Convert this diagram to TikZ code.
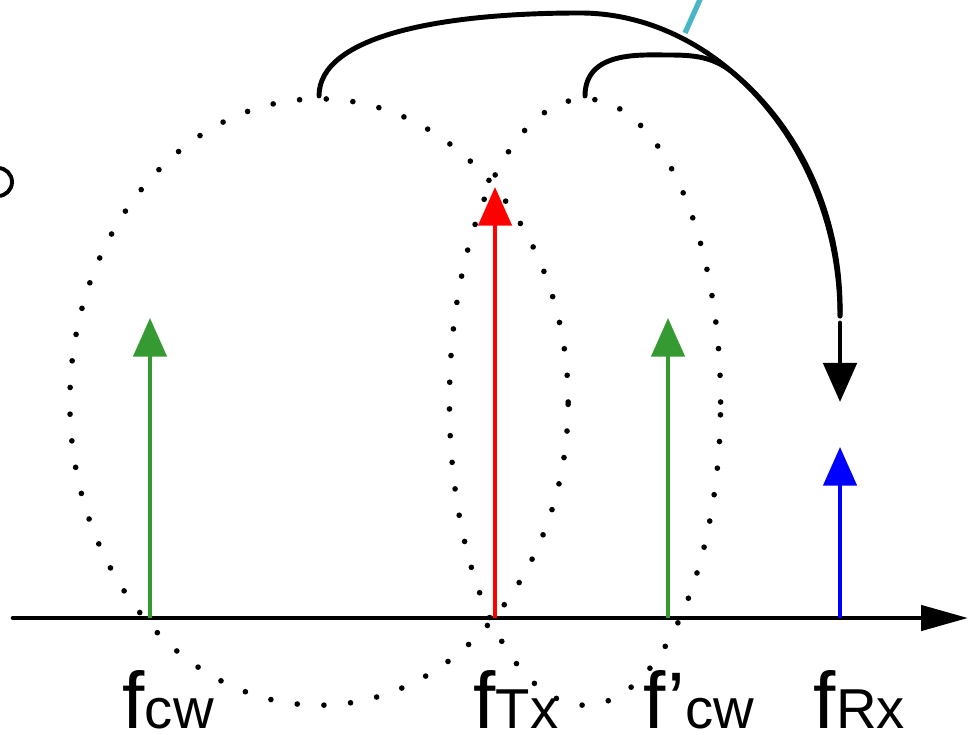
\documentclass[tikz,border=0pt]{standalone}
\usepackage{fontspec}
\setmainfont{Liberation Sans}
\usetikzlibrary{arrows.meta, shapes.geometric}
\definecolor{tone}{HTML}{369A33}
\definecolor{txred}{HTML}{FF0000}
\definecolor{rxblue}{HTML}{0000FF}
\definecolor{aqua}{HTML}{4BB5C8}
\newcommand{\idx}[1]{{\fontsize{16}{16}\selectfont #1}}

\begin{document}
\begin{tikzpicture}[
    x=0.01cm, y=-0.01cm,
    spike/.style={line width=1.2pt, -{Triangle[length=3.85mm, width=3.3mm]}},
    band/.style={ellipse, draw, line width=1.6pt, line cap=round, dash pattern=on 0pt off 7.6pt, inner sep=0pt, minimum height=6.06cm},
    hop/.style={line width=1.4pt, line cap=round},
    lab/.style={anchor=base west, inner sep=0pt, font=\fontsize{22.8}{24}\selectfont}
  ]
    \useasboundingbox (0,0) rectangle (968,734);

    \coordinate (axl) at (13,618);
    \coordinate (axr) at (968,618);
    \draw[line width=1.3pt, line cap=round, -{Triangle[length=4.7mm, width=2.5mm]}] (axl) -- (axr);

    \foreach \n/\x/\y/\c in {cw/150/318/tone, tx/495/187/txred, cwb/668/318/tone, rx/840/447/rxblue} {
      \coordinate (\n) at (\x,618);
      \coordinate (\n top) at (\x,\y);
      \draw[spike, \c] (\n) -- (\n top);
    }

    \node[band, minimum width=4.98cm] (pair) at (319,402) {};
    \node[band, minimum width=2.71cm] (pairb) at (585,402) {};

    \coordinate (apex) at (580,13);
    \coordinate (apexb) at (667,55);
    \coordinate (merge) at (732,72);
    \coordinate (land) at (840,316);
    \draw[hop] (pair.north) .. controls +(0,-60) and (440,13) .. (apex) .. controls (720,13) and (840,150) .. (land);
    \draw[hop] (pairb.north) .. controls +(0,-45) and (640,55) .. (apexb) .. controls (692,55) and (712,56) .. (merge)
      .. controls (799,127) and (842,216) .. (land);

    \coordinate (drop) at (840,323);
    \coordinate (droptip) at (840,402);
    \draw[hop, -{Triangle[length=3.9mm, width=3.3mm]}] (drop) -- (droptip);

    \coordinate (cut) at (685,33);
    \coordinate (cutend) at (702,-5);
    \draw[aqua, line width=1.5pt] (cut) -- (cutend);

    \coordinate (ring) at (-2,182);
    \draw[line width=1.1pt] (ring) circle [radius=0.14cm];

    \node[lab] (lcw) at (122,728) {f\idx{cw}};
    \node[lab] (ltx) at (473,728) {f\idx{Tx}};
    \node[lab] (lcwb) at (643,728) {f’\idx{cw}};
    \node[lab] (lrx) at (813,728) {f\idx{Rx}};
  \end{tikzpicture}
\end{document}
